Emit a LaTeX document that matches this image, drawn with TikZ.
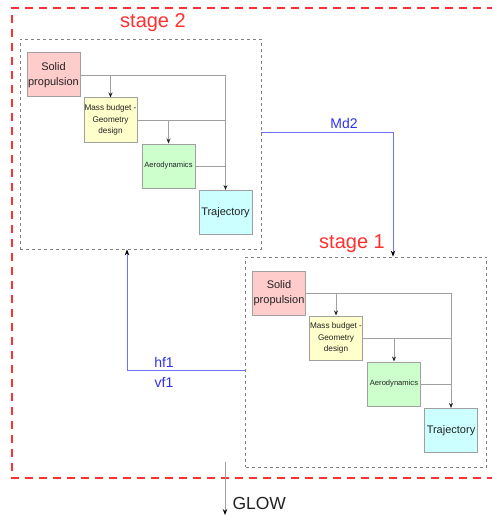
\documentclass[tikz,border=0pt]{standalone}
\usepackage{fontspec}
\setmainfont{Liberation Sans}
\usetikzlibrary{arrows.meta}
\definecolor{spfill}{HTML}{FFCCCC}
\definecolor{mbfill}{HTML}{FFFFCC}
\definecolor{aefill}{HTML}{CCFFCC}
\definecolor{trfill}{HTML}{CCFFFF}
\definecolor{blkdraw}{HTML}{A0A0A0}
\definecolor{txtgray}{HTML}{222222}
\definecolor{redline}{HTML}{FF3030}
\definecolor{bluetxt}{HTML}{3030F0}
\definecolor{blueline}{HTML}{7070FF}
\tikzset{
  blk/.style={draw=blkdraw, line width=1pt, minimum width=53pt, minimum height=44pt, inner sep=0pt, align=center, text=txtgray},
  bigtxt/.style={font=\fontsize{11}{14.5}\selectfont},
  midtxt/.style={font=\fontsize{8.2}{11.5}\selectfont},
  smalltxt/.style={font=\fontsize{7.6}{9}\selectfont},
  stagebox/.style={draw=gray, dashed, dash pattern=on 3pt off 3pt, line width=0.8pt, minimum width=241pt, minimum height=210pt, inner sep=0pt},
  conn/.style={draw=blkdraw, line width=0.9pt},
  connarr/.style={conn, -{Stealth[length=5pt, width=4pt, color=txtgray]}},
  stagelbl/.style={text=redline, font=\fontsize{20}{24}\selectfont},
  flowlbl/.style={text=bluetxt, font=\fontsize{14}{16}\selectfont},
  flow/.style={draw=blueline, line width=0.9pt, -{Stealth[length=6pt, width=4.5pt, color=black]}}
}
\newcommand\drawstage[3]{%
  \begin{scope}[shift={(#2,#3)}]
    \node[stagebox] (#1box) at (140.5,144) {};
    \node[blk, bigtxt, fill=spfill] (#1sp) at (53.5,75) {Solid\\propulsion};
    \node[blk, midtxt, fill=mbfill] (#1mb) at (110.5,120) {Mass budget -\\Geometry\\design};
    \node[blk, smalltxt, fill=aefill] (#1ae) at (168.5,166) {Aerodynamics};
    \node[blk, bigtxt, fill=trfill] (#1tr) at (225.5,212.5) {Trajectory};
    \draw[connarr] (#1sp.east) -| (#1tr.north);
    \draw[connarr] (#1sp.east -| #1mb.north) -- (#1mb.north);
    \draw[conn] (#1mb.east) -- (#1mb.east -| #1tr.north);
    \draw[connarr] (#1mb.east -| #1ae.north) -- (#1ae.north);
    \draw[conn] (#1ae.east) -- (#1ae.east -| #1tr.north);
  \end{scope}}
\begin{document}
\begin{tikzpicture}[x=1pt, y=-1pt]
  \useasboundingbox (0,0) rectangle (491,516);
  % outer red dashed frame
  \draw[redline, line width=1.2pt, dash pattern=on 8pt off 6pt] (495,8) -- (12,8) -- (12,478) -- (495,478);
  \drawstage{a}{0}{0}
  \drawstage{b}{225.5}{218}
  \node[stagelbl] (lbla) at (153,23) {stage 2};
  \node[stagelbl] (lblb) at (352,244) {stage 1};
  % Md2 flow
  \draw[flow] ([yshift=12pt]abox.east) -| ([xshift=27pt]bbox.north);
  \node[flowlbl] (md2) at (344,123) {Md2};
  % hf1/vf1 flow
  \draw[flow] ([yshift=-8pt]bbox.west) -| ([xshift=-13.5pt]abox.south);
  \node[flowlbl] (hf1) at (164,362) {hf1};
  \node[flowlbl] (vf1) at (164,382) {vf1};
  % GLOW
  \coordinate (gstart) at (225,462);
  \coordinate (gend) at (225,515);
  \draw[conn, line width=1pt, -{Stealth[length=6pt, width=4.5pt, color=black]}] (gstart) -- (gend);
  \node[anchor=west, font=\fontsize{17.5}{20}\selectfont, text=txtgray] (glow) at (229,503) {GLOW};
\end{tikzpicture}
\end{document}
